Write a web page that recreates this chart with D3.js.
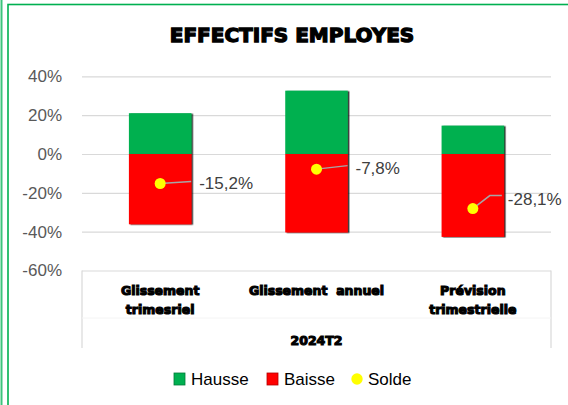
<!DOCTYPE html>
<html>
<head>
<meta charset="utf-8">
<script src="https://cdn.jsdelivr.net/npm/d3@7"></script>
<style>
  body { margin: 0; background: #fff; }
  svg { display: block; }
</style>
</head>
<body>
<svg id="chart" width="568" height="405"></svg>
<script>
// chart data
var categories = ["Glissement trimesriel", "Glissement  annuel", "Prévision trimestrielle"];
var categoryLines = [["Glissement", "trimesriel"], ["Glissement  annuel"], ["Prévision", "trimestrielle"]];
var hausse = [21.0, 32.6, 14.6];
var baisse = [-36.2, -40.4, -42.7];
var solde = [-15.2, -7.8, -28.1];
var tickValues = [40, 20, 0, -20, -40, -60];
var groupLabel = "2024T2";
var title = "EFFECTIFS EMPLOYES";

// label placement (layout only): offset of the label start from the dot, and leader bend
var labelOffsets = [{dx: 39, dy: 0, bend: null}, {dx: 39, dy: -1.5, bend: null}, {dx: 35, dy: -10, bend: 17}];

var svg = d3.select("#chart");

var margin = {left: 82, right: 17, top: 76, bottom: 134};
var width = 568, height = 405;

var x = d3.scaleBand()
    .domain(categories)
    .range([margin.left, width - margin.right])
    .paddingInner(0.6)
    .paddingOuter(0.3);

var y = d3.scaleLinear()
    .domain([-60, 40])
    .range([270.5, 76.3]);

// excel style: plain hyphen and decimal comma
var fmt = function(v) { return v.toFixed(1).replace(".", ",") + "%"; };

// outer frame lines
svg.append("line")
    .attr("x1", 1.5).attr("x2", 1.5).attr("y1", 0).attr("y2", height)
    .attr("stroke", "#3cc47c").attr("stroke-width", 2);
svg.append("rect")
    .attr("x", 8).attr("y", 4.5).attr("width", width).attr("height", height)
    .attr("fill", "none").attr("stroke", "#00b050").attr("stroke-width", 1.6);

var defs = svg.append("defs");
var shadow = defs.append("filter").attr("id", "shadow")
    .attr("x", "-10%").attr("y", "-10%").attr("width", "130%").attr("height", "130%");
shadow.append("feDropShadow")
    .attr("dx", 1.5).attr("dy", 0.5).attr("stdDeviation", 0.5)
    .attr("flood-color", "#000").attr("flood-opacity", 0.85);

// title
svg.append("text")
    .attr("x", 292).attr("y", 42)
    .attr("text-anchor", "middle")
    .style("font-family", "DejaVu Sans").style("font-weight", "bold").style("font-size", "20px")
    .attr("stroke", "#000").attr("stroke-width", 1.3)
    .attr("fill", "#000")
    .text(title);

// grid lines
var yAxis = d3.axisLeft(y).tickValues(tickValues).tickSize(-(width - margin.right - margin.left))
    .tickFormat(function(d) { return d + "%"; })
    .tickPadding(20);

var gy = svg.append("g")
    .attr("transform", "translate(" + margin.left + ",0)")
    .call(yAxis);
gy.select(".domain").remove();
gy.selectAll(".tick line").attr("stroke", "#d9d9d9").attr("stroke-width", 1.2);
gy.selectAll(".tick text")
    .attr("fill", "#595959")
    .style("font-family", "Liberation Sans").style("font-size", "17px");

// category box (multi level axis)
var boxTop = y(-60), boxBottom = 348;
svg.append("line")
    .attr("x1", margin.left).attr("x2", margin.left).attr("y1", boxTop).attr("y2", boxBottom)
    .attr("stroke", "#d9d9d9").attr("stroke-width", 1.2);
svg.append("line")
    .attr("x1", width - margin.right).attr("x2", width - margin.right).attr("y1", boxTop).attr("y2", boxBottom)
    .attr("stroke", "#d9d9d9").attr("stroke-width", 1.2);
svg.append("line")
    .attr("x1", margin.left).attr("x2", width - margin.right).attr("y1", 318).attr("y2", 318)
    .attr("stroke", "#f4f4f4").attr("stroke-width", 1);

var catText = svg.append("g").selectAll("text")
    .data(categories)
    .enter().append("text")
    .attr("text-anchor", "middle")
    .attr("x", function(d) { return x(d) + x.bandwidth() / 2; })
    .attr("y", 295)
    .style("font-family", "DejaVu Sans").style("font-weight", "bold").style("font-size", "12.5px")
    .style("white-space", "pre")
    .attr("stroke", "#000").attr("stroke-width", 1.1)
    .attr("fill", "#000");
catText.selectAll("tspan")
    .data(function(d, i) { return categoryLines[i]; })
    .enter().append("tspan")
    .attr("x", function() { var p = d3.select(this.parentNode); return p.attr("x"); })
    .attr("dy", function(d, i) { return i == 0 ? 0 : 19; })
    .text(function(d) { return d; });

svg.append("text")
    .attr("x", (margin.left + width - margin.right) / 2).attr("y", 345)
    .attr("text-anchor", "middle")
    .style("font-family", "DejaVu Sans").style("font-weight", "bold").style("font-size", "12.5px")
    .attr("stroke", "#000").attr("stroke-width", 1.1)
    .text(groupLabel);

// bars
var bars = svg.append("g").attr("filter", "url(#shadow)");
bars.selectAll(".hausse")
    .data(hausse)
    .enter().append("rect")
    .attr("class", "hausse")
    .attr("x", function(d, i) { return x(categories[i]); })
    .attr("width", x.bandwidth())
    .attr("y", function(d) { return y(d); })
    .attr("height", function(d) { return y(0) - y(d); })
    .attr("fill", "#00b050");

bars.selectAll(".baisse")
    .data(baisse)
    .enter().append("rect")
    .attr("class", "baisse")
    .attr("x", function(d, i) { return x(categories[i]); })
    .attr("width", x.bandwidth())
    .attr("y", y(0))
    .attr("height", function(d) { return y(d) - y(0); })
    .attr("fill", "#ff0000");

// leader lines + labels for solde
var cx = function(i) { return x(categories[i]) + x.bandwidth() / 2; };

var leaders = svg.append("g");
solde.forEach(function(v, i) {
    var o = labelOffsets[i];
    var x0 = cx(i), y0 = y(v);
    var lx = x0 + o.dx, ly = y0 + o.dy;
    var pts;
    if (o.bend) {
        pts = [[x0, y0], [x0 + o.bend, ly - 3], [lx - 6, ly - 3]];
    } else {
        pts = [[x0, y0], [lx - 8, ly - 2]];
    }
    leaders.append("path")
        .attr("d", d3.line()(pts))
        .attr("fill", "none")
        .attr("stroke", "#a6a6a6")
        .attr("stroke-width", 1.5);
    svg.append("text")
        .attr("x", lx).attr("y", ly + 6)
        .attr("fill", "#404040")
        .style("font-family", "Liberation Sans").style("font-size", "17px")
        .text(fmt(v));
});

svg.append("g").selectAll("circle")
    .data(solde)
    .enter().append("circle")
    .attr("cx", function(d, i) { return cx(i); })
    .attr("cy", function(d) { return y(d); })
    .attr("r", 5.5)
    .attr("fill", "#ffff00");

// legend
var legend = svg.append("g");
var legendItems = [
    {name: "Hausse", color: "#00b050", x: 174},
    {name: "Baisse", color: "#ff0000", x: 267}
];
legendItems.forEach(function(d) {
    legend.append("rect")
        .attr("x", d.x).attr("y", 373).attr("width", 11).attr("height", 12)
        .attr("fill", d.color)
        .attr("stroke", d3.color(d.color).darker(1)).attr("stroke-width", 0.8);
    legend.append("text")
        .attr("x", d.x + 17).attr("y", 385)
        .style("font-family", "Liberation Sans").style("font-size", "17px")
        .attr("fill", "#000")
        .text(d.name);
});
legend.append("circle")
    .attr("cx", 357).attr("cy", 379).attr("r", 5.7)
    .attr("fill", "#ffff00");
legend.append("text")
    .attr("x", 368).attr("y", 385)
    .style("font-family", "Liberation Sans").style("font-size", "17px")
    .attr("fill", "#000")
    .text("Solde");
</script>
</body>
</html>
